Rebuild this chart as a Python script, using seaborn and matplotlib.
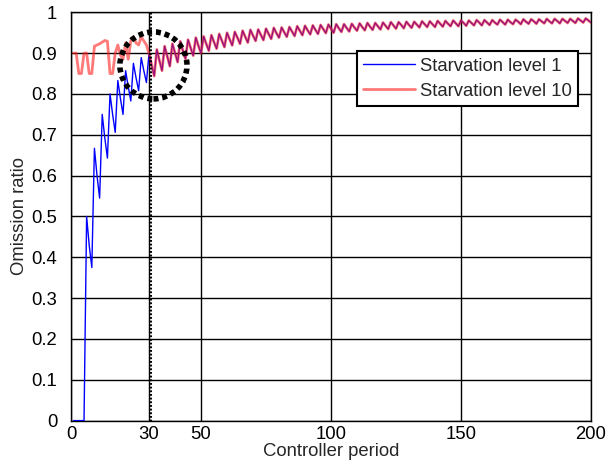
import numpy as np
import pandas as pd
import matplotlib
matplotlib.use('Agg')
import matplotlib.pyplot as plt
from matplotlib.patches import Ellipse
import seaborn as sns

# controller period (x) and omission ratios
period = list(range(1, 201))

# starvation level 1, every period 1..200
level1 = [
    0.0, 0.0, 0.0, 0.0, 0.0, 0.5, 0.429, 0.375, 0.667, 0.6,
    0.545, 0.75, 0.692, 0.643, 0.8, 0.75, 0.706, 0.833, 0.789, 0.75,
    0.857, 0.818, 0.783, 0.875, 0.84, 0.808, 0.889, 0.857, 0.828, 0.9,
    0.871, 0.844, 0.909, 0.882, 0.857, 0.917, 0.892, 0.868, 0.923, 0.9,
    0.878, 0.929, 0.907, 0.886, 0.933, 0.913, 0.894, 0.938, 0.918, 0.9,
    0.941, 0.923, 0.906, 0.944, 0.927, 0.911, 0.947, 0.931, 0.915, 0.95,
    0.934, 0.919, 0.952, 0.938, 0.923, 0.955, 0.94, 0.926, 0.957, 0.943,
    0.93, 0.958, 0.945, 0.932, 0.96, 0.947, 0.935, 0.962, 0.949, 0.938,
    0.963, 0.951, 0.94, 0.964, 0.953, 0.942, 0.966, 0.955, 0.944, 0.967,
    0.956, 0.946, 0.968, 0.957, 0.947, 0.969, 0.959, 0.949, 0.97, 0.96,
    0.95, 0.971, 0.961, 0.952, 0.971, 0.962, 0.953, 0.972, 0.963, 0.955,
    0.973, 0.964, 0.956, 0.974, 0.965, 0.957, 0.974, 0.966, 0.958, 0.975,
    0.967, 0.959, 0.976, 0.968, 0.96, 0.976, 0.969, 0.961, 0.977, 0.969,
    0.962, 0.977, 0.97, 0.963, 0.978, 0.971, 0.964, 0.978, 0.971, 0.964,
    0.979, 0.972, 0.965, 0.979, 0.972, 0.966, 0.98, 0.973, 0.966, 0.98,
    0.974, 0.967, 0.98, 0.974, 0.968, 0.981, 0.975, 0.968, 0.981, 0.975,
    0.969, 0.981, 0.975, 0.97, 0.982, 0.976, 0.97, 0.982, 0.976, 0.971,
    0.982, 0.977, 0.971, 0.983, 0.977, 0.972, 0.983, 0.978, 0.972, 0.983,
    0.978, 0.973, 0.984, 0.978, 0.973, 0.984, 0.979, 0.973, 0.984, 0.979,
    0.974, 0.984, 0.979, 0.974, 0.985, 0.98, 0.975, 0.985, 0.98, 0.975,
]

# starvation level 10 differs only for periods 1..30, then follows level 1
level10_head = [
    0.9, 0.9, 0.85, 0.85, 0.9, 0.9, 0.85, 0.85, 0.917, 0.92,
    0.923, 0.927, 0.931, 0.929, 0.85, 0.85, 0.9, 0.92, 0.895, 0.885,
    0.925, 0.885, 0.93, 0.94, 0.925, 0.92, 0.94, 0.93, 0.92, 0.9,
]
level10 = level10_head + level1[len(level10_head):]

x_ticks = [0, 30, 50, 100, 150, 200]
y_ticks = [0, 0.1, 0.2, 0.3, 0.4, 0.5, 0.6, 0.7, 0.8, 0.9, 1]
y_ticklabels = ['0', '0.1', '0.2', '0.3', '0.4', '0.5', '0.6', '0.7', '0.8', '0.9', '1']

df1 = pd.DataFrame({'period': period, 'ratio': level1})
df10 = pd.DataFrame({'period': period, 'ratio': level10})

sns.set_style('white')
plt.rcParams['font.family'] = ['Liberation Sans', 'DejaVu Sans']
fs = 13.3

fig = plt.figure(figsize=(6.16, 4.70), dpi=100)
ax = fig.add_axes([0.1153, 0.1051, 0.8441, 0.8687])

sns.lineplot(data=df1, x='period', y='ratio', color='#0000ff', lw=1.0,
             estimator=None, label='Starvation level 1', ax=ax, zorder=3)
sns.lineplot(data=df10, x='period', y='ratio', color='#ff2020', lw=2.0, alpha=0.6,
             estimator=None, label='Starvation level 10', ax=ax, zorder=4)

# marker line at period 30 and dotted circle around the crossing
ax.axvline(30.4, color='black', lw=2.2, ls=(0, (0.6, 0.6)), zorder=5)
circ = Ellipse((31.7, 0.87), 25.8, 0.164, fill=False, edgecolor='black',
               lw=4, ls=(0, (0.9, 0.7)), zorder=6)
ax.add_patch(circ)

ax.set_xlim(0, 200)
ax.set_ylim(0, 1)
ax.set_xticks(x_ticks)
ax.set_yticks(y_ticks)
ax.set_yticklabels(y_ticklabels)
ax.grid(True, color='black', lw=1.0)
ax.set_axisbelow(True)
for s in ax.spines.values():
    s.set_color('black')
    s.set_linewidth(1.0)
ax.tick_params(axis='y', direction='in', length=0, pad=10, labelsize=fs, colors='black')
ax.tick_params(axis='x', direction='in', length=0, pad=4, labelsize=fs, colors='black')

ax.set_xlabel('Controller period', fontsize=fs, labelpad=0)
ax.set_ylabel('Omission ratio', fontsize=fs, labelpad=2)

leg = ax.legend(loc='upper left', bbox_to_anchor=(0.5496, 0.905), fontsize=fs,
                frameon=True, fancybox=False, edgecolor='black', framealpha=1,
                handlelength=2.8, handletextpad=0.25, borderpad=0.35, labelspacing=0.45,
                borderaxespad=0)
leg.get_frame().set_linewidth(1.5)

fig.savefig('out.png', dpi=100, facecolor='white')
